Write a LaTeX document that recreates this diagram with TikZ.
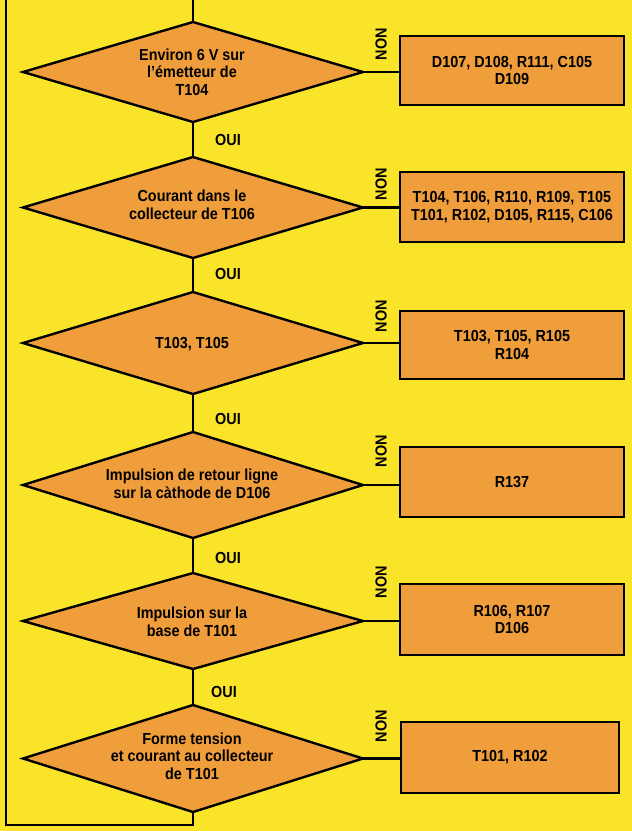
\documentclass[tikz,border=0pt]{standalone}
\usepackage{fontspec}
\setmainfont{Liberation Sans}[FakeStretch=0.9]
\usetikzlibrary{shapes.geometric}
\definecolor{bgyellow}{RGB}{250,228,42}
\definecolor{boxorange}{RGB}{240,158,60}
\begin{document}
\begin{tikzpicture}[x=1pt,y=-1pt,
  dec/.style={diamond, draw=black, line width=2.4pt, fill=boxorange, inner sep=0pt, outer sep=0pt, minimum width=340pt},
  res/.style={rectangle, draw=black, line width=2.2pt, fill=boxorange, minimum width=224pt, inner sep=0pt, outer sep=0pt, align=center, font=\fontsize{16}{17.5}\selectfont\bfseries},
  txt/.style={align=center, inner sep=0pt, font=\fontsize{16}{17.5}\selectfont\bfseries},
  lab/.style={inner sep=0pt, font=\fontsize{16}{17.5}\selectfont\bfseries},
  wire/.style={line width=2.4pt, draw=black}]
\fill[bgyellow] (0,0) rectangle (632,831);
\useasboundingbox (0,0) rectangle (632,831);
% decisions
\node[dec, minimum height=100pt] (d1) at (193,72) {};
\node[dec, minimum height=101pt] (d2) at (193,207.5) {};
\node[dec, minimum height=102pt] (d3) at (193,343) {};
\node[dec, minimum height=106pt] (d4) at (193,485) {};
\node[dec, minimum height=96pt] (d5) at (193,621) {};
\node[dec, minimum height=107pt] (d6) at (193,758.5) {};
% decision texts
\node[txt] (t1) at (192,72) {Environ 6 V sur\\l'émetteur de\\T104};
\node[txt] (t2) at (192,205) {Courant dans le\\collecteur de T106};
\node[txt] (t3) at (192,344) {T103, T105};
\node[txt] (t4) at (192,484) {Impulsion de retour ligne\\sur la càthode de D106};
\node[txt] (t5) at (192,622) {Impulsion sur la\\base de T101};
\node[txt] (t6) at (192,756) {Forme tension\\et courant au collecteur\\de T101};
% result boxes
\node[res, minimum height=69pt] (b1) at (512,70.5) {D107, D108, R111, C105\\D109};
\node[res, minimum height=70pt] (b2) at (512,207) {T104, T106, R110, R109, T105\\T101, R102, D105, R115, C106};
\node[res, minimum height=68pt] (b3) at (512,345) {T103, T105, R105\\R104};
\node[res, minimum height=70pt] (b4) at (512,482) {R137};
\node[res, minimum height=71pt] (b5) at (512,619.5) {R106, R107\\D106};
\node[res, minimum height=71pt, minimum width=218pt] (b6) at (510,757.5) {T101, R102};
% spine
\coordinate (top) at (193,0);
\coordinate (bl) at (6,825);
\coordinate (tl) at (6,0);
\draw[wire] (top) -- (d1.north);
\draw[wire] (d1.south) -- (d2.north);
\draw[wire] (d2.south) -- (d3.north);
\draw[wire] (d3.south) -- (d4.north);
\draw[wire] (d4.south) -- (d5.north);
\draw[wire] (d5.south) -- (d6.north);
\draw[wire] (d6.south) |- (bl) -- (tl);
% NON branches
\foreach \i in {1,...,6} {
  \draw[wire] (d\i.east) -- (d\i.east -| b\i.west);
}
% labels
\node[lab] (o1) at (228,140) {OUI};
\node[lab] (o2) at (228,274) {OUI};
\node[lab] (o3) at (228,419) {OUI};
\node[lab] (o4) at (228,558) {OUI};
\node[lab] (o5) at (224,692) {OUI};
\node[lab, rotate=90] (n1) at (381,44) {NON};
\node[lab, rotate=90] (n2) at (381,184) {NON};
\node[lab, rotate=90] (n3) at (381,316) {NON};
\node[lab, rotate=90] (n4) at (381,451) {NON};
\node[lab, rotate=90] (n5) at (381,582) {NON};
\node[lab, rotate=90] (n6) at (381,726) {NON};
\end{tikzpicture}
\end{document}
